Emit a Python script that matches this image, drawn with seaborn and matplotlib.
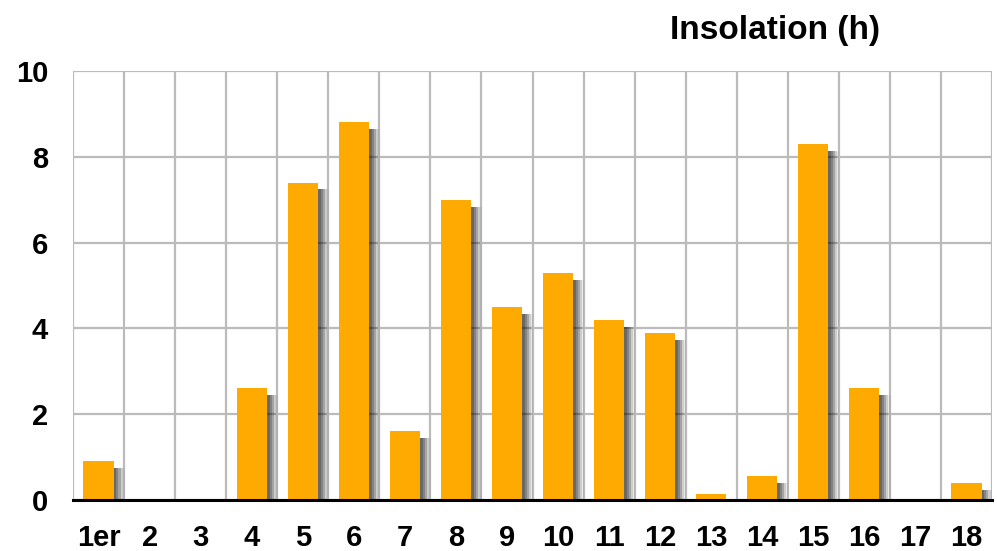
import matplotlib
matplotlib.use("Agg")
import matplotlib.pyplot as plt
import matplotlib.patheffects as pe
import seaborn as sns
import pandas as pd
import numpy as np

# data
jours = ["1er", "2", "3", "4", "5", "6", "7", "8", "9", "10",
         "11", "12", "13", "14", "15", "16", "17", "18"]
insolation = [0.9, 0.0, 0.0, 2.6, 7.4, 8.8, 1.6, 7.0, 4.5, 5.3,
              4.2, 3.9, 0.15, 0.55, 8.3, 2.6, 0.0, 0.4]
y_ticks = [0, 2, 4, 6, 8, 10]
titre = "Insolation (h)"

df = pd.DataFrame({"jour": jours, "h": insolation})

sns.set_style("white")
plt.rcParams["font.family"] = ["Liberation Sans", "DejaVu Sans"]
plt.rcParams["text.color"] = "black"
plt.rcParams["xtick.color"] = "black"
plt.rcParams["ytick.color"] = "black"

fig = plt.figure(figsize=(9.97, 5.51), dpi=100)
ax = fig.add_axes([73 / 997, 1 - 500 / 551, (992 - 73) / 997, (500 - 71) / 551])

sns.barplot(data=df, x="jour", y="h", order=jours, color="#FFAA00",
            saturation=1, width=0.59, ax=ax, zorder=3)

# soft drop shadow on the right side of each bar
shadow = [
    pe.SimplePatchShadow(offset=(8, -5), shadow_rgbFace="black", alpha=0.05),
    pe.SimplePatchShadow(offset=(6.5, -5), shadow_rgbFace="black", alpha=0.15),
    pe.SimplePatchShadow(offset=(5, -5), shadow_rgbFace="black", alpha=0.2),
    pe.SimplePatchShadow(offset=(3.5, -5), shadow_rgbFace="black", alpha=0.2),
    pe.SimplePatchShadow(offset=(2, -5), shadow_rgbFace="black", alpha=0.2),
    pe.Normal(),
]
for p in ax.patches:
    p.set_linewidth(0)
    p.set_path_effects(shadow)

ax.set_xlim(-0.5, len(jours) - 0.5)
ax.set_ylim(0, 10)
ax.set_yticks(y_ticks)
ax.set_xticks(np.arange(-0.5, len(jours), 1.0), minor=True)
ax.grid(False)
ax.grid(axis="y", which="major", color="#BBBBBB", linewidth=1.6)
ax.grid(axis="x", which="minor", color="#BBBBBB", linewidth=1.6)
ax.set_axisbelow(True)

for s in ["left", "right", "top"]:
    ax.spines[s].set_visible(False)
ax.spines["bottom"].set_color("black")
ax.spines["bottom"].set_linewidth(2.2)
ax.spines["bottom"].set_zorder(5)

ax.tick_params(axis="both", which="both", length=0, labelsize=21)
ax.tick_params(axis="y", pad=18)
ax.tick_params(axis="x", pad=17)
for lab in ax.get_xticklabels() + ax.get_yticklabels():
    lab.set_fontweight("bold")

ax.set_xlabel("")
ax.set_ylabel("")

fig.text(775 / 997, 1 - 31 / 551, titre, ha="center", va="center",
         fontsize=24, fontweight="bold")

fig.savefig("out.png", dpi=100)
